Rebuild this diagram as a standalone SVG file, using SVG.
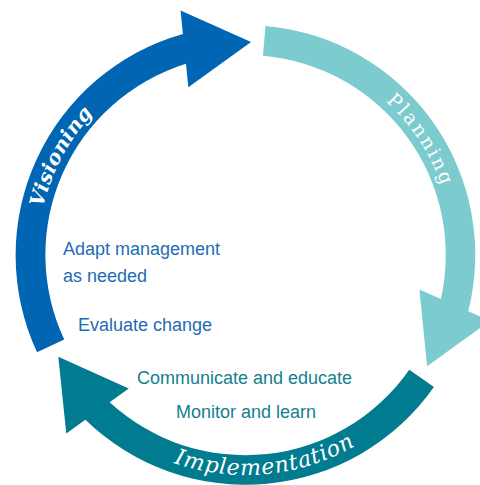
<svg xmlns="http://www.w3.org/2000/svg" xmlns:xlink="http://www.w3.org/1999/xlink" width="480" height="485" viewBox="0 0 480 485">
<style>
.phase-label{fill:#ffffff;font-family:"DejaVu Serif","Liberation Serif",serif}
.note{font-family:"Liberation Sans",Arial,sans-serif;font-size:18px}
.note-blue{fill:#1f6cb4}
.note-teal{fill:#14808f}
</style>
<defs>
<path id="arrow" d="M 37.05,352.2 A 230 230 0 0 1 182.92,33.94 L 180.54,10.56 L 251.08,42.07 L 188.34,87.16 L 185.96,63.78 A 200 200 0 0 0 64.24,339.5 Z"/>
<path id="p-vis" d="M 52.65,332.92 A 208 208 0 0 1 202.25,51.54"/>
<path id="p-plan" d="M 268.69,48.30 A 208 208 0 0 1 445.04,313.73"/>
<path id="p-impl" d="M 91.03,411.65 A 220 220 0 0 0 426.59,379.92"/>
</defs>
<rect width="480" height="485" fill="#ffffff"/>
<g id="visioning">
<use xlink:href="#arrow" href="#arrow" fill="#0066b3"/>
<text class="phase-label" font-size="20" font-weight="bold" font-style="italic" text-anchor="middle"><textPath xlink:href="#p-vis" href="#p-vis" startOffset="50%" textLength="108" lengthAdjust="spacing">Visioning</textPath></text>
</g>
<g id="planning">
<use xlink:href="#arrow" href="#arrow" fill="#7bcbcf" transform="rotate(120 245.5 255)"/>
<text class="phase-label" font-size="19" text-anchor="middle"><textPath xlink:href="#p-plan" href="#p-plan" startOffset="50%" textLength="102" lengthAdjust="spacing">Planning</textPath></text>
</g>
<g id="implementation">
<use xlink:href="#arrow" href="#arrow" fill="#007b8f" transform="rotate(240 245.5 255)"/>
<text class="phase-label" font-size="22" font-style="italic" text-anchor="middle"><textPath xlink:href="#p-impl" href="#p-impl" startOffset="50%" textLength="188" lengthAdjust="spacing">Implementation</textPath></text>
</g>
<g id="note-adapt">
<text class="note note-blue" x="63" y="255">Adapt management</text>
<text class="note note-blue" x="63" y="282">as needed</text>
</g>
<g id="note-evaluate">
<text class="note note-blue" x="78" y="331">Evaluate change</text>
</g>
<g id="note-communicate">
<text class="note note-teal" x="137" y="384">Communicate and educate</text>
</g>
<g id="note-monitor">
<text class="note note-teal" x="176" y="418">Monitor and learn</text>
</g>
<g id="connectors"/>
</svg>
